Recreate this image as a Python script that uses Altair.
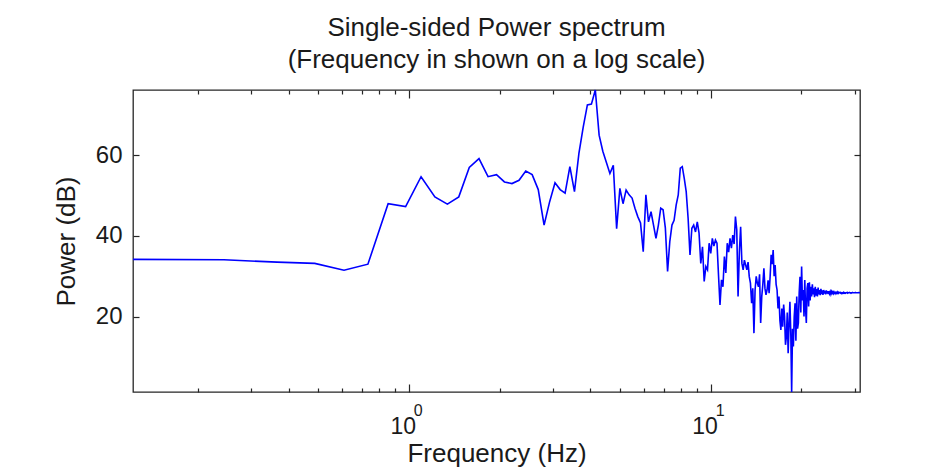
import altair as alt
import pandas as pd

# ---- data ----
bin_hz = 62.5 / 512  # FFT bin spacing of the spectrum (first bin .. Nyquist)

power_db = [
    34.2, 34.1, 33.5, 33.2, 31.5, 33.0, 48.0, 47.3, 54.7, 49.7,
    47.9, 49.7, 57.0, 59.2, 54.7, 55.2, 53.4, 53.0, 53.8, 56.1,
    55.2, 51.5, 42.7, 48.5, 53.2, 51.5, 50.6, 57.2, 51.0, 60.5,
    67.0, 72.5, 72.7, 76.2, 65.0, 61.0, 58.2, 55.5, 57.5, 41.8,
    51.8, 48.0, 51.4, 50.2, 49.4, 46.9, 44.8, 43.2, 36.1, 50.2,
    43.5, 46.0, 42.7, 39.4, 42.7, 46.9, 46.5, 42.0, 31.2, 38.6,
    42.7, 43.9, 47.7, 50.2, 56.8, 57.2, 54.3, 51.0, 44.4, 35.3,
    41.9, 42.7, 41.0, 43.5, 40.7, 33.2, 37.3, 28.7, 32.4, 31.6,
    38.2, 35.7, 39.4, 37.5, 39.0, 38.2, 30.3, 22.9, 29.1, 27.4,
    34.9, 30.8, 38.2, 36.0, 39.4, 37.0, 40.2, 38.0, 44.8, 41.5,
    25.0, 36.0, 42.3, 33.2, 31.6, 34.0, 32.8, 31.6, 33.5, 29.9,
    28.3, 23.3, 27.0, 15.9, 26.6, 30.0, 28.3, 27.4, 30.5, 18.4,
    25.0, 28.0, 32.0, 27.0, 25.4, 26.6, 29.0, 25.8, 30.0, 35.3,
    33.0, 36.5, 30.0, 32.8, 28.0, 26.6, 22.0, 25.0, 19.0, 16.7,
    22.0, 17.5, 23.0, 20.0, 13.0, 15.0, 21.0, 10.9, 18.0, 23.7,
    16.0, 1.3, 17.0, 12.6, 20.0, 23.3, 14.0, 25.0, 17.0, 18.4,
    26.0, 29.9, 21.0, 32.4, 24.0, 26.6, 20.0, 29.1, 22.0, 18.4,
    27.0, 28.3, 22.5, 28.5, 24.0, 27.4, 25.0, 28.0, 25.5, 27.0,
    24.8, 27.4, 25.2, 26.8, 25.0, 27.2, 25.5, 26.6, 25.3, 26.9,
    25.6, 26.5, 25.4, 26.6, 25.7, 26.4, 25.5, 26.5, 25.7, 26.3,
    25.6, 26.3, 25.7, 26.2, 25.6, 26.2, 25.8, 26.1, 25.7, 26.1,
    25.8, 26.0, 25.7, 26.0, 25.8, 26.1, 25.8, 26.0, 25.9, 26.0,
    25.8, 25.9, 25.7, 25.9, 25.8, 26.0, 25.8, 25.9, 25.8, 25.9,
    25.9, 26.0, 25.8, 25.9, 25.9, 26.0, 25.9, 25.9, 25.8, 25.9,
    25.9, 26.0, 25.9, 25.9, 25.9, 25.9, 26.0, 25.9, 25.9, 25.9,
    25.9, 25.9, 25.9, 26.0, 25.9, 25.9,
]
freq_hz = [round(bin_hz * k, 6) for k in range(1, len(power_db) + 1)]

x_minor_ticks = [0.2, 0.3, 0.4, 0.5, 0.6, 0.7, 0.8, 0.9, 1,
                 2, 3, 4, 5, 6, 7, 8, 9, 10, 20, 30]
x_label_ticks = [1, 10]
y_ticks = [20, 40, 60]
title_lines = ["Single-sided Power spectrum", "(Frequency in shown on a log scale)"]
x_title = "Frequency (Hz)"
y_title = "Power (dB)"

df = pd.DataFrame({"freq": freq_hz, "power": power_db})

# ---- styling ----
W, H = 727, 302
FONT = "Liberation Sans"
TXT = "#1a1a1a"
LINE = "#0000ff"
AXC = "#262626"

xscale = alt.Scale(type="log", domain=[freq_hz[0], freq_hz[-1]], nice=False)
yscale = alt.Scale(domain=[min(power_db), max(power_db)], nice=False, zero=False)

x_tick_len = {"condition": {"test": "datum.value == 1 || datum.value == 10", "value": 8},
              "value": 4}

# layer 1: the spectrum, x "10" labels + x title, y labels + y title
main = alt.Chart(df).mark_line(color=LINE, strokeWidth=1.6).encode(
    x=alt.X("freq:Q", scale=xscale, axis=alt.Axis(
        orient="bottom", values=x_label_ticks, labelExpr="'10'",
        ticks=False, tickSize=0, domain=False, grid=False,
        labelFont=FONT, labelFontSize=23, labelColor=TXT,
        labelBaseline="alphabetic", labelPadding=41, labelOffset=-6,
        labelFlush=False, labelOverlap=False,
        title=x_title, titleFont=FONT, titleFontSize=26, titleFontWeight="normal",
        titleColor=TXT, titleX=W / 2, titleY=69, titleBaseline="alphabetic",
        titleAlign="center")),
    y=alt.Y("power:Q", scale=yscale, axis=alt.Axis(
        orient="left", values=y_ticks, ticks=False, tickSize=0, domain=False,
        grid=False, labelFont=FONT, labelFontSize=24, labelColor=TXT,
        labelPadding=11, labelBaseline="middle", labelFlush=False,
        title=y_title, titleFont=FONT, titleFontSize=26, titleFontWeight="normal",
        titleColor=TXT, titleX=-67, titleY=H / 2, titleAngle=270,
        titleBaseline="middle", titleAlign="center")),
)

# layer 2: exponents of the x labels, inward ticks on the right edge
expo = alt.Chart(df).mark_line(strokeOpacity=0).encode(
    x=alt.X("freq:Q", scale=xscale, axis=alt.Axis(
        orient="bottom", values=x_label_ticks,
        labelExpr="datum.value == 1 ? '0' : '1'",
        ticks=False, tickSize=0, domain=False, grid=False,
        labelFont=FONT, labelFontSize=16, labelColor=TXT,
        labelBaseline="alphabetic", labelPadding=23, labelOffset=9,
        labelFlush=False, labelOverlap=False, title=None)),
    y=alt.Y("power:Q", scale=yscale, axis=alt.Axis(
        orient="left", offset=-W, values=y_ticks, labels=False, ticks=True,
        tickSize=6, tickColor=AXC, tickWidth=1.2, domain=False, grid=False,
        title=None)),
)

# layer 3: inward ticks on the top edge and the left edge
top_left = alt.Chart(df).mark_line(strokeOpacity=0).encode(
    x=alt.X("freq:Q", scale=xscale, axis=alt.Axis(
        orient="bottom", offset=-H, values=x_minor_ticks, labels=False,
        ticks=True, tickSize=x_tick_len, tickColor=AXC, tickWidth=1.2,
        domain=False, grid=False, title=None)),
    y=alt.Y("power:Q", scale=yscale, axis=alt.Axis(
        orient="right", offset=-W, values=y_ticks, labels=False, ticks=True,
        tickSize=6, tickColor=AXC, tickWidth=1.2, domain=False, grid=False,
        title=None)),
)

# layer 4: inward ticks on the bottom edge
bottom = alt.Chart(df).mark_line(strokeOpacity=0).encode(
    x=alt.X("freq:Q", scale=xscale, axis=alt.Axis(
        orient="top", offset=-H, values=x_minor_ticks, labels=False,
        ticks=True, tickSize=x_tick_len, tickColor=AXC, tickWidth=1.2,
        domain=False, grid=False, title=None)),
    y=alt.Y("power:Q", scale=yscale, axis=None),
)

chart = (
    alt.layer(main, expo, top_left, bottom)
    .resolve_axis(x="independent", y="independent")
    .properties(
        width=W, height=H,
        title=alt.TitleParams(text=title_lines, font=FONT, fontSize=26,
                              fontWeight="normal", color=TXT, lineHeight=32,
                              offset=14, anchor="middle"),
        autosize=alt.AutoSizeParams(type="none"),
        padding={"left": 125, "top": 82, "right": 40, "bottom": 76},
        background="white",
    )
    .configure_view(stroke=AXC, strokeWidth=1.3)
)

chart.save("out.html", embed_options={"renderer": "svg", "actions": False})
